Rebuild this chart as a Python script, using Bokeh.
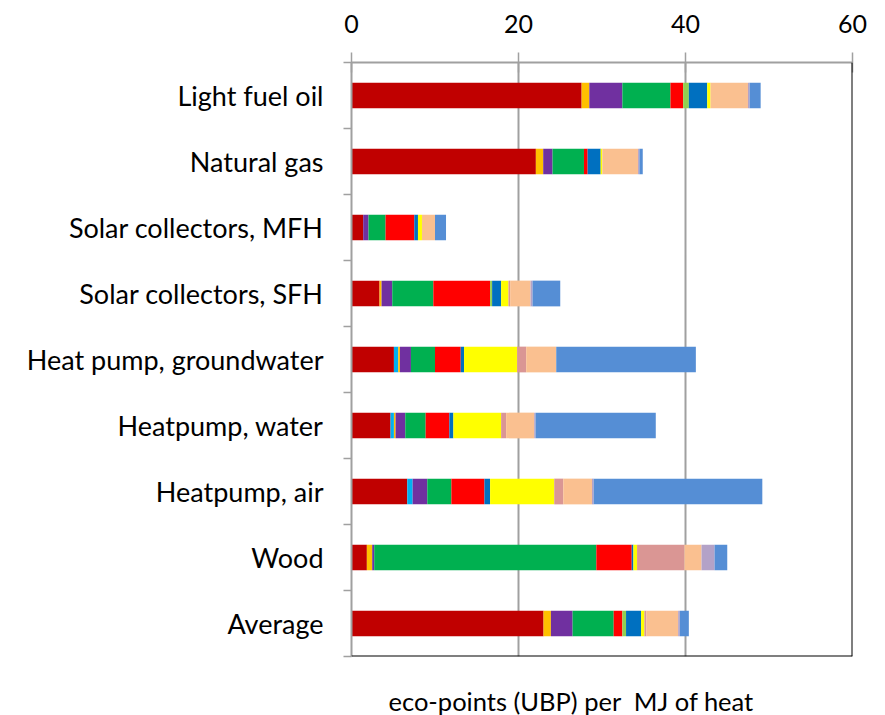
from bokeh.plotting import figure
from bokeh.models import ColumnDataSource, Range1d, FixedTicker, Span, Title, LinearAxis
from bokeh.embed import file_html
from bokeh.resources import INLINE

categories = ["Light fuel oil", "Natural gas", "Solar collectors, MFH", "Solar collectors, SFH",
              "Heat pump, groundwater", "Heatpump, water", "Heatpump, air", "Wood", "Average"]

s_darkred  = [27.56, 22.08, 1.40, 3.36, 5.08, 4.68, 6.68, 1.84, 23.00]
s_cyan     = [0.00, 0.00, 0.00, 0.00, 0.52, 0.40, 0.64, 0.00, 0.00]
s_gold     = [0.92, 0.88, 0.00, 0.24, 0.20, 0.20, 0.00, 0.64, 0.88]
s_purple   = [3.96, 1.12, 0.64, 1.28, 1.32, 1.16, 1.76, 0.24, 2.60]
s_green    = [5.76, 3.76, 2.04, 4.92, 2.88, 2.44, 2.88, 26.60, 4.92]
s_red      = [1.52, 0.44, 3.44, 6.80, 3.08, 2.84, 3.96, 4.24, 1.04]
s_ltgreen  = [0.68, 0.00, 0.00, 0.24, 0.00, 0.00, 0.00, 0.00, 0.44]
s_blue     = [2.20, 1.56, 0.44, 1.08, 0.40, 0.48, 0.68, 0.20, 1.80]
s_yellow   = [0.40, 0.20, 0.48, 0.88, 6.36, 5.72, 7.68, 0.44, 0.40]
s_pink     = [0.00, 0.00, 0.00, 0.20, 1.08, 0.60, 1.08, 5.68, 0.24]
s_peach    = [4.48, 4.28, 1.56, 2.44, 3.60, 3.36, 3.44, 2.04, 3.80]
s_lavender = [0.20, 0.16, 0.00, 0.24, 0.00, 0.16, 0.20, 1.56, 0.20]
s_cornflow = [1.32, 0.40, 1.32, 3.32, 16.72, 14.40, 20.20, 1.52, 1.08]

x_ticks = [0, 20, 40, 60]
x_title = "eco-points (UBP) per\u00a0 MJ of heat"

series_names = ["darkred", "cyan", "gold", "purple", "green", "red", "ltgreen", "blue",
                "yellow", "pink", "peach", "lavender", "cornflow"]
series_vals = [s_darkred, s_cyan, s_gold, s_purple, s_green, s_red, s_ltgreen, s_blue,
               s_yellow, s_pink, s_peach, s_lavender, s_cornflow]
colors = ["#C00000", "#00B0F0", "#FFC000", "#7030A0", "#00B050", "#FF0000", "#92D050",
          "#0070C0", "#FFFF00", "#DA9694", "#FAC090", "#B3A2C7", "#558ED5"]

data = {"y": list(range(len(categories)))}
for n, v in zip(series_names, series_vals):
    data[n] = v
source = ColumnDataSource(data)

FONT = "Lato"

p = figure(width=885, height=715,
           x_range=Range1d(0, 60), y_range=Range1d(len(categories) - 0.5, -0.5),
           x_axis_location="above", output_backend="svg", toolbar_location=None,
           min_border_left=351, min_border_right=33, min_border_top=62, min_border_bottom=58)

p.hbar_stack(series_names, y="y", height=0.39, color=colors, line_color=None, source=source)

p.outline_line_color = None
p.background_fill_color = "white"
p.border_fill_color = "white"

# x axis (top)
xa = p.xaxis[0]
xa.ticker = FixedTicker(ticks=x_ticks)
xa.axis_line_color = "#A0A0A0"
xa.axis_line_width = 2
xa.major_tick_line_color = "#A0A0A0"
xa.major_tick_line_width = 1.5
xa.major_tick_in = 10
xa.major_tick_out = 10
xa.minor_tick_line_color = None
xa.major_label_text_font = FONT
xa.major_label_text_font_size = "25px"
xa.major_label_text_color = "black"
xa.major_label_standoff = 20

# invisible spacer axis below the frame (pushes the title down)
spacer = LinearAxis(ticker=FixedTicker(ticks=[30]), axis_line_color=None,
                    major_tick_line_color=None, minor_tick_line_color=None,
                    major_tick_in=0, major_tick_out=27, major_label_standoff=0,
                    major_label_text_font_size="0px", major_label_text_color=None)
p.add_layout(spacer, "below")

# y axis (left)
ya = p.yaxis[0]
ya.ticker = FixedTicker(ticks=list(range(len(categories))),
                        minor_ticks=[i - 0.5 for i in range(len(categories) + 1)])
ya.major_label_overrides = {i: c for i, c in enumerate(categories)}
ya.axis_line_color = "#A0A0A0"
ya.axis_line_width = 2
ya.major_tick_line_color = None
ya.major_tick_in = 0
ya.major_tick_out = 0
ya.minor_tick_line_color = "#A0A0A0"
ya.minor_tick_line_width = 1.5
ya.minor_tick_in = 0
ya.minor_tick_out = 8
ya.major_label_text_font = FONT
ya.major_label_text_font_size = "27px"
ya.major_label_text_color = "black"
ya.major_label_standoff = 20

p.ygrid.grid_line_color = None
p.xgrid.ticker = FixedTicker(ticks=x_ticks)
p.xgrid.grid_line_color = "#A0A0A0"
p.xgrid.grid_line_width = 2

p.add_layout(Span(location=60, dimension="height", line_color="black", line_width=2))
p.add_layout(Span(location=len(categories) - 0.5, dimension="width", line_color="black", line_width=2))

p.add_layout(Title(text=x_title, align="left", offset=37, standoff=0,
                   text_font=FONT, text_font_size="25.5px", text_font_style="normal",
                   text_color="black"), "below")

open("out.html", "w").write(file_html(p, INLINE))
